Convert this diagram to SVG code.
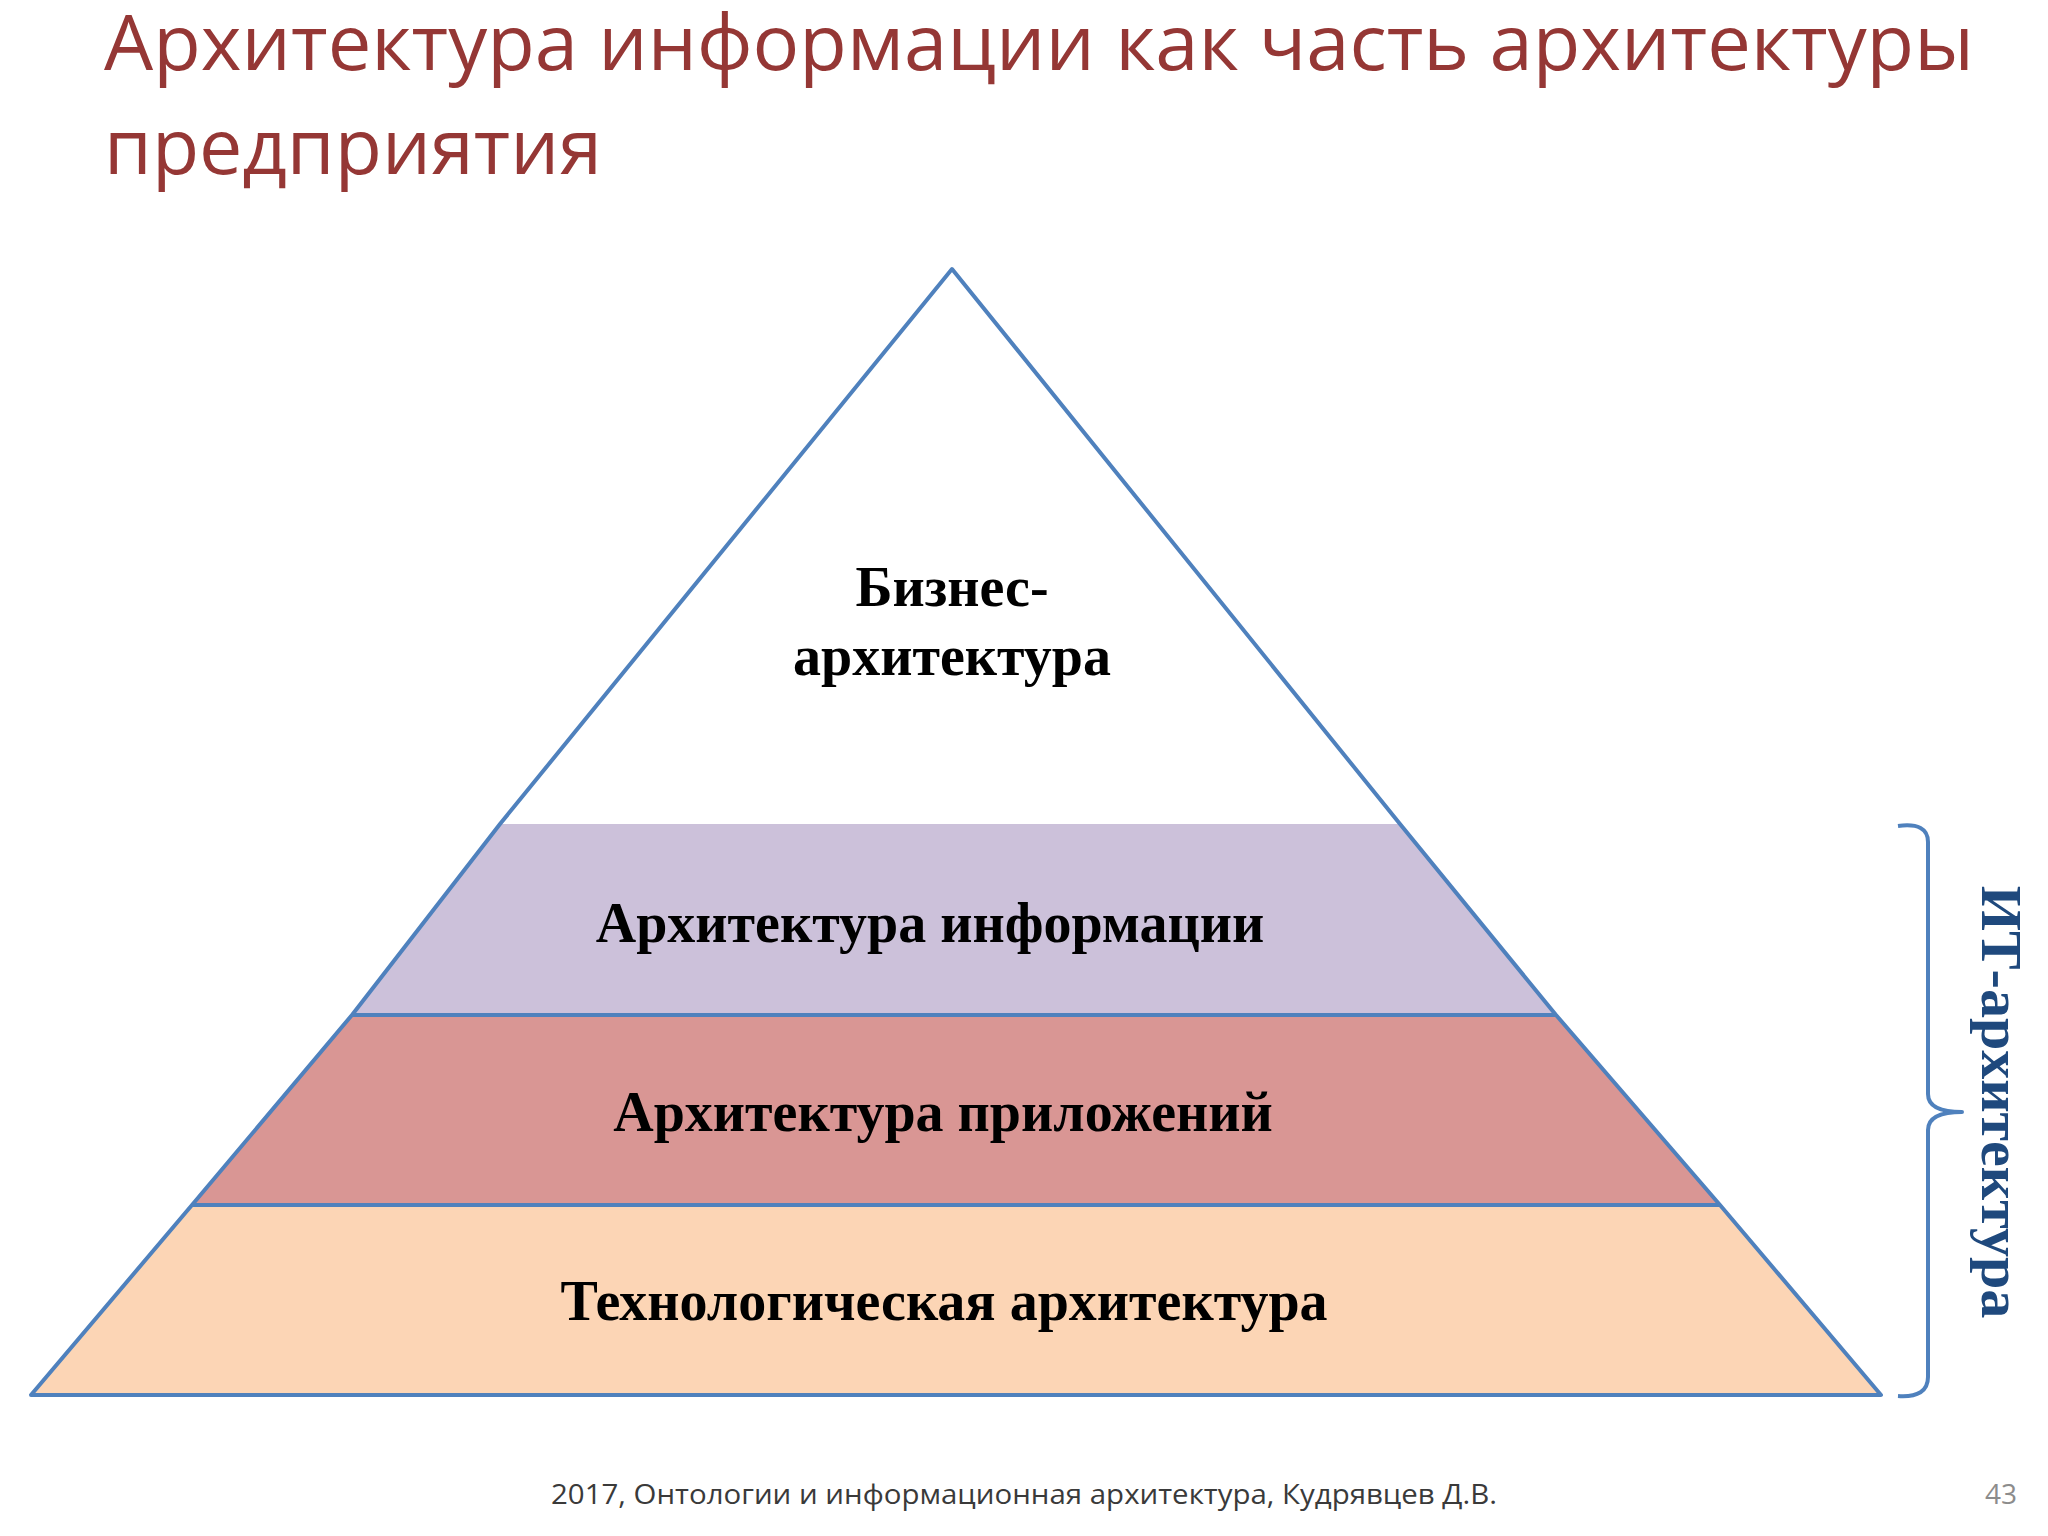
<svg xmlns="http://www.w3.org/2000/svg" width="2048" height="1536" viewBox="0 0 2048 1536">
<style>
.title{font-family:"Open Sans","Liberation Sans",sans-serif;font-size:76px;fill:#953735}
.lbl{font-family:"Liberation Serif","Times New Roman",serif;font-weight:bold;font-size:56px;fill:#000;text-anchor:middle}
.edge{fill:none;stroke:#4F81BD;stroke-width:4;stroke-linejoin:round}
.foot{font-family:"Open Sans","Liberation Sans",sans-serif;font-size:28px;fill:#3a3a3a}
</style>
<rect width="2048" height="1536" fill="#ffffff"/>
<g id="title">
<text class="title" x="104" y="70" textLength="1870" lengthAdjust="spacingAndGlyphs">Архитектура информации как часть архитектуры</text>
<text class="title" x="104" y="174" textLength="498" lengthAdjust="spacingAndGlyphs">предприятия</text>
</g>
<g id="pyramid">
<g id="business">
<polygon points="952,269 500,824 1400,824" fill="#ffffff"/>
<text class="lbl" x="952" y="606">Бизнес-</text>
<text class="lbl" x="952" y="675">архитектура</text>
</g>
<g id="information">
<polygon points="500,824 1400,824 1556,1015 352,1015" fill="#CCC1DA"/>
<text class="lbl" x="930" y="942">Архитектура информации</text>
</g>
<g id="applications">
<polygon points="352,1015 1556,1015 1720,1205 192,1205" fill="#D99694"/>
<text class="lbl" x="943" y="1131">Архитектура приложений</text>
</g>
<g id="technology">
<polygon points="192,1205 1720,1205 1881,1395 31,1395" fill="#FCD5B5"/>
<text class="lbl" x="944" y="1320">Технологическая архитектура</text>
</g>
</g>
<g id="connectors">
<polygon class="edge" points="952,269 1400,824 1556,1015 1720,1205 1881,1395 31,1395 192,1205 352,1015 500,824"/>
<line class="edge" x1="352" y1="1015" x2="1556" y2="1015"/>
<line class="edge" x1="192" y1="1205" x2="1720" y2="1205"/>
</g>
<g id="it-bracket">
<path class="edge" stroke-width="5" d="M1898,826 Q1928,822 1928,842 L1928,1094 Q1928,1112 1962,1112 Q1928,1112 1928,1130 L1928,1377 Q1928,1398 1898,1396"/>
<text transform="translate(1982,1102) rotate(90)" font-family="Liberation Serif,Times New Roman,serif" font-weight="bold" font-size="58" fill="#1F497D" text-anchor="middle">ИТ-архитектура</text>
</g>
<g id="footer">
<text class="foot" x="551" y="1504" textLength="946" lengthAdjust="spacingAndGlyphs">2017, Онтологии и информационная архитектура, Кудрявцев Д.В.</text>
<text class="foot" x="1985" y="1504" style="fill:#8c8c8c">43</text>
</g>
</svg>
